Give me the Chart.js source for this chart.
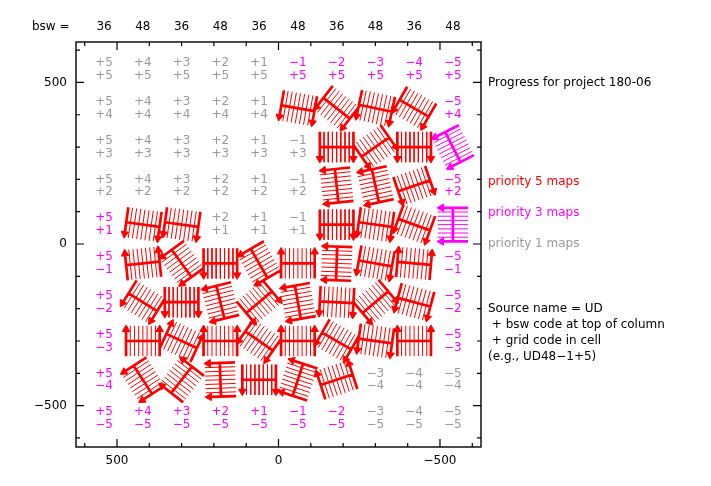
<!DOCTYPE html>
<html>
<head>
<meta charset="utf-8">
<script src="https://cdn.jsdelivr.net/npm/chart.js@4.4.1/dist/chart.umd.min.js"></script>
<style>
  html, body { margin: 0; padding: 0; background: #fff; }
  #wrap { width: 711px; height: 486px; position: relative; }
</style>
</head>
<body>
<div id="wrap"><canvas id="c" width="711" height="486"></canvas></div>
<script>
// ---------- data ----------
const colX = [540, 420, 300, 180, 60, -60, -180, -300, -420, -540];
const rowY = [540, 420, 300, 180, 60, -60, -180, -300, -420, -540];
const colCodes = ['+5', '+4', '+3', '+2', '+1', '\u22121', '\u22122', '\u22123', '\u22124', '\u22125'];
const rowCodes = ['+5', '+4', '+3', '+2', '+1', '\u22121', '\u22122', '\u22123', '\u22124', '\u22125'];
const bswCodes = ['36', '48', '36', '48', '36', '48', '36', '48', '36', '48'];
// g = priority 1 (not mapped), m = priority 3 (not mapped), R = priority 5 map, M = priority 3 map
const cellStatus = [
  'gggggmmmmm',
  'gggggRRRRm',
  'ggggggRRRM',
  'ggggggRRRm',
  'mRRgggRRRM',
  'mRRRRRRRRm',
  'mRRRRRRRRm',
  'mRRRRRRRRm',
  'mRRRRRRggg',
  'mmmmmmmggg'
];
// scan orientation of each map (degrees), null where no map
const _ = null;
const mapAngles = [
  [_, _, _, _, _, _, _, _, _, _],
  [_, _, _, _, _, -10, -38, -12, -30, _],
  [_, _, _, _, _, _, 0, 35, 0, -63],
  [_, _, _, _, _, _, -84, -78, 19, _],
  [_, -8, -8, _, _, _, 0, -8, -20, -90],
  [_, 186, -54, 0, -60, 180, -92, -10, 175, _],
  [_, -32, 0, -76, 40, -80, -3, 40, -15, _],
  [_, 180, 155, 180, -35, 180, -30, -8, 180, _],
  [_, -57, -128, -88, 0, -108, -162, _, _, _],
  [_, _, _, _, _, _, _, _, _, _]
];
const xMajorTicks = [500, 0, -500];
const yMajorTicks = [500, 0, -500];
const tickLabels = ['500', '0', '\u2212500'];
const sideNotes = [
  { y: 500, text: 'Progress for project 180-06', color: '#000000' },
  { y: 193, text: 'priority 5 maps', color: '#ff0000' },
  { y: 96, text: 'priority 3 maps', color: '#ff00ff' },
  { y: 0, text: 'priority 1 maps', color: '#999999' },
  { y: -200, text: 'Source name = UD', color: '#000000' },
  { y: -250, text: ' + bsw code at top of column', color: '#000000' },
  { y: -300, text: ' + grid code in cell', color: '#000000' },
  { y: -350, text: '(e.g., UD48\u22121+5)', color: '#000000' }
];

const RED = '#ff0000', MAG = '#ff00ff', GRAY = '#999999';

// ---------- glyph geometry (map scan pattern, in data units) ----------
const W = 104, H = 94, NL = 9, AR = 13;
const sets = { thinR: [], thickR: [], arrR: [], rotR: [], thinM: [], thickM: [], arrM: [], rotM: [] };
function seg(arr, a, b) { arr.push(a, b, { x: b.x, y: null }); }
function glyph(cx, cy, rho, key) {
  const r = rho * Math.PI / 180;
  const px = Math.cos(r), py = Math.sin(r);
  const dx = Math.sin(r), dy = -Math.cos(r);
  const P = (s, t) => ({ x: cx - (s * px + t * dx), y: cy + (s * py + t * dy) });
  for (let i = 0; i < NL; i++) {
    const s = -W / 2 + i * W / (NL - 1);
    const edge = (i === 0 || i === NL - 1);
    if (edge) {
      seg(sets['thick' + key], P(s, -H / 2), P(s, H / 2 - AR));
      sets['arr' + key].push(P(s, H / 2 - AR * 0.85));
      sets['rot' + key].push(180 - rho);
    } else {
      seg(sets['thin' + key], P(s, -H / 2), P(s, H / 2));
    }
  }
  seg(sets['thick' + key], P(-W / 2, 0), P(W / 2, 0));
}
for (let r = 0; r < rowY.length; r++) {
  for (let c = 0; c < colX.length; c++) {
    const st = cellStatus[r][c];
    if (st === 'R' || st === 'M') glyph(colX[c], rowY[r], mapAngles[r][c], st);
  }
}

function lineDs(data, color, w) {
  return { type: 'scatter', data, showLine: true, spanGaps: false, borderColor: color,
           borderWidth: w, pointRadius: 0, pointHoverRadius: 0, fill: false, tension: 0 };
}
function arrowDs(data, rot, color) {
  return { type: 'scatter', data, showLine: false, pointStyle: 'triangle', pointRadius: 4.3,
           pointRotation: rot, backgroundColor: color, borderColor: color, borderWidth: 1, pointHoverRadius: 4.3 };
}

// ---------- plugins: background, frame, ticks, texts ----------
const FONT = '12px "DejaVu Sans", sans-serif';
const decor = {
  id: 'decor',
  beforeDraw(chart) {
    const ctx = chart.ctx;
    ctx.save(); ctx.fillStyle = '#fff'; ctx.fillRect(0, 0, chart.width, chart.height); ctx.restore();
  },
  afterDraw(chart) {
    const ctx = chart.ctx, a = chart.chartArea, xs = chart.scales.x, ys = chart.scales.y;
    ctx.save();
    // frame
    ctx.strokeStyle = '#000'; ctx.lineWidth = 1.4;
    ctx.strokeRect(a.left, a.top, a.right - a.left, a.bottom - a.top);
    // ticks
    ctx.lineWidth = 1.2;
    ctx.beginPath();
    for (let v = -600; v <= 600; v += 100) {
      const len = (v % 500 === 0) ? 8 : 4;
      const X = xs.getPixelForValue(v);
      ctx.moveTo(X, a.bottom); ctx.lineTo(X, a.bottom - len);
      ctx.moveTo(X, a.top); ctx.lineTo(X, a.top + len);
      const Y = ys.getPixelForValue(v);
      ctx.moveTo(a.left, Y); ctx.lineTo(a.left + len, Y);
      ctx.moveTo(a.right, Y); ctx.lineTo(a.right - len, Y);
    }
    ctx.stroke();
    ctx.font = FONT; ctx.fillStyle = '#000';
    // tick labels
    ctx.textAlign = 'center'; ctx.textBaseline = 'middle';
    xMajorTicks.forEach((v, i) => ctx.fillText(tickLabels[i], xs.getPixelForValue(v), a.bottom + 14));
    ctx.textAlign = 'right';
    yMajorTicks.forEach((v, i) => ctx.fillText(tickLabels[i], a.left - 9, ys.getPixelForValue(v)));
    // top bsw labels
    ctx.textAlign = 'left';
    ctx.fillText('bsw =', 32, a.top - 15);
    ctx.textAlign = 'center';
    colX.forEach((x, i) => ctx.fillText(bswCodes[i], xs.getPixelForValue(x), a.top - 15));
    // cell labels
    for (let r = 0; r < rowY.length; r++) {
      for (let c = 0; c < colX.length; c++) {
        const st = cellStatus[r][c];
        if (st !== 'g' && st !== 'm') continue;
        ctx.fillStyle = st === 'g' ? GRAY : MAG;
        const X = xs.getPixelForValue(colX[c]), Y = ys.getPixelForValue(rowY[r]);
        ctx.fillText(colCodes[c], X, Y - 6.3);
        ctx.fillText(rowCodes[r], X, Y + 6.4);
      }
    }
    // side notes
    ctx.textAlign = 'left';
    sideNotes.forEach(n => {
      ctx.fillStyle = n.color;
      ctx.fillText(n.text, a.right + 7, ys.getPixelForValue(n.y));
    });
    ctx.restore();
  }
};

new Chart(document.getElementById('c'), {
  type: 'scatter',
  data: {
    datasets: [
      lineDs(sets.thinR, RED, 1),
      lineDs(sets.thickR, RED, 2.7),
      arrowDs(sets.arrR, sets.rotR, RED),
      lineDs(sets.thinM, MAG, 1),
      lineDs(sets.thickM, MAG, 2.7),
      arrowDs(sets.arrM, sets.rotM, MAG)
    ]
  },
  options: {
    responsive: false,
    devicePixelRatio: 1,
    animation: false,
    events: [],
    layout: { padding: { left: 76, top: 42, right: 230, bottom: 39 } },
    scales: {
      x: { type: 'linear', min: -627, max: 627, reverse: true, display: false },
      y: { type: 'linear', min: -628, max: 625, display: false }
    },
    plugins: { legend: { display: false }, tooltip: { enabled: false } }
  },
  plugins: [decor]
});
</script>
</body>
</html>
